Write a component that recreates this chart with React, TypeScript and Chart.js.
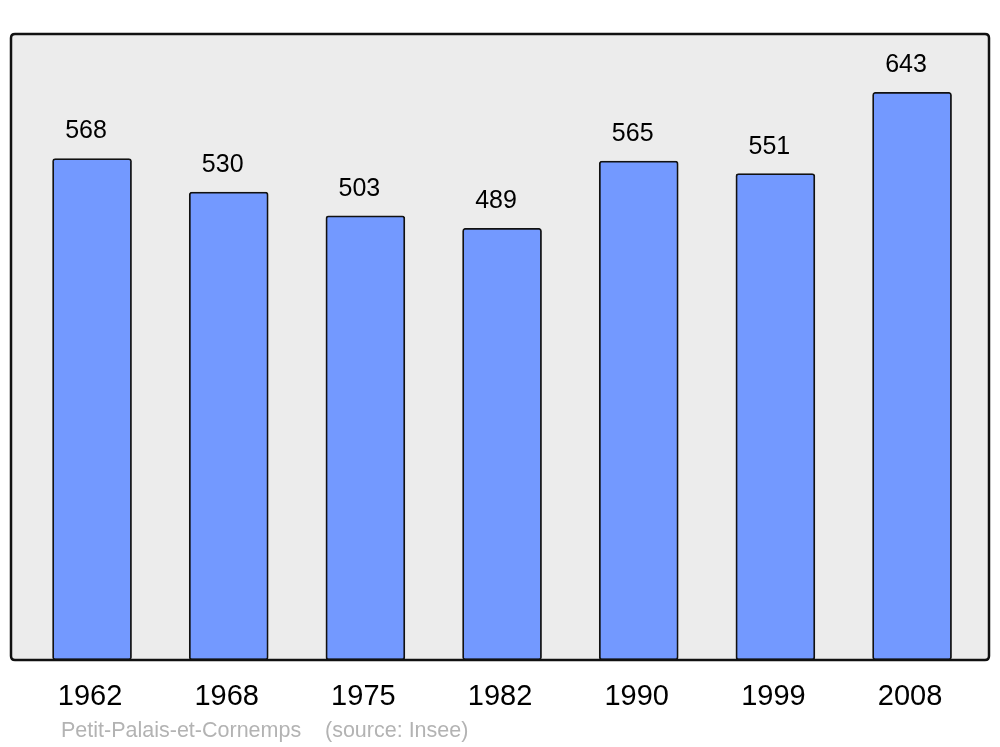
import React, { useEffect, useRef } from "react";
import { Chart, registerables } from "chart.js";

Chart.register(...registerables);

const years = ["1962", "1968", "1975", "1982", "1990", "1999", "2008"];
const population = [568, 530, 503, 489, 565, 551, 643];
const sourceName = "Petit-Palais-et-Cornemps";
const sourceNote = "(source: Insee)";

const FONT = '"Liberation Sans", Arial, sans-serif';

function roundRect(ctx: CanvasRenderingContext2D, x: number, y: number, w: number, h: number, r: number) {
  ctx.beginPath();
  ctx.moveTo(x + r, y);
  ctx.lineTo(x + w - r, y);
  ctx.quadraticCurveTo(x + w, y, x + w, y + r);
  ctx.lineTo(x + w, y + h - r);
  ctx.quadraticCurveTo(x + w, y + h, x + w - r, y + h);
  ctx.lineTo(x + r, y + h);
  ctx.quadraticCurveTo(x, y + h, x, y + h - r);
  ctx.lineTo(x, y + r);
  ctx.quadraticCurveTo(x, y, x + r, y);
  ctx.closePath();
}

const framePlugin = {
  id: "frame",
  beforeDatasetsDraw(chart: any) {
    const { ctx, chartArea: a } = chart;
    ctx.save();
    roundRect(ctx, a.left, a.top, a.right - a.left, a.bottom - a.top, 4);
    ctx.fillStyle = "#ececec";
    ctx.fill();
    ctx.restore();
  },
  afterDatasetsDraw(chart: any) {
    const { ctx, chartArea: a } = chart;
    ctx.save();
    roundRect(ctx, a.left, a.top, a.right - a.left, a.bottom - a.top, 4);
    ctx.lineWidth = 2.5;
    ctx.strokeStyle = "#111";
    ctx.stroke();

    const meta = chart.getDatasetMeta(0);
    ctx.fillStyle = "#000";
    ctx.textAlign = "center";
    ctx.textBaseline = "alphabetic";
    ctx.font = `25px ${FONT}`;
    meta.data.forEach((bar: any, i: number) => {
      ctx.fillText(String(population[i]), bar.x - 6, bar.y - 20);
    });
    ctx.font = `29px ${FONT}`;
    const xs = chart.scales.x;
    years.forEach((y, i) => {
      ctx.fillText(y, xs.getPixelForValue(i) - 2, 705);
    });
    ctx.textAlign = "left";
    ctx.fillStyle = "#b3b3b3";
    ctx.font = `21.5px ${FONT}`;
    ctx.fillText(sourceName, 61, 737);
    ctx.fillText(sourceNote, 325, 737);
    ctx.restore();
  },
};

export default function App() {
  const ref = useRef<HTMLCanvasElement | null>(null);
  useEffect(() => {
    if (!ref.current) return;
    const chart = new Chart(ref.current, {
      type: "bar",
      data: {
        datasets: [
          {
            data: population.map((v, i) => ({ x: i, y: v })),
            backgroundColor: "#7399ff",
            borderColor: "#111",
            borderWidth: 1.8,
            borderRadius: 3,
            borderSkipped: false,
            barThickness: 79,
          },
        ],
      },
      options: {
        animation: false,
        responsive: false,
        layout: { padding: { left: 11, right: 11, top: 34, bottom: 87 } },
        plugins: { legend: { display: false }, tooltip: { enabled: false } },
        scales: {
          x: { type: "linear", min: -0.593, max: 6.563, offset: false, display: false },
          y: { min: 0, max: 709, display: false },
        },
      },
      plugins: [framePlugin],
    });
    return () => chart.destroy();
  }, []);
  return (
    <div style={{ position: "fixed", left: 0, top: 0, width: 1000, height: 747, background: "#fff" }}>
      <canvas ref={ref} width={1000} height={747} style={{ width: 1000, height: 747, display: "block" }} />
    </div>
  );
}
